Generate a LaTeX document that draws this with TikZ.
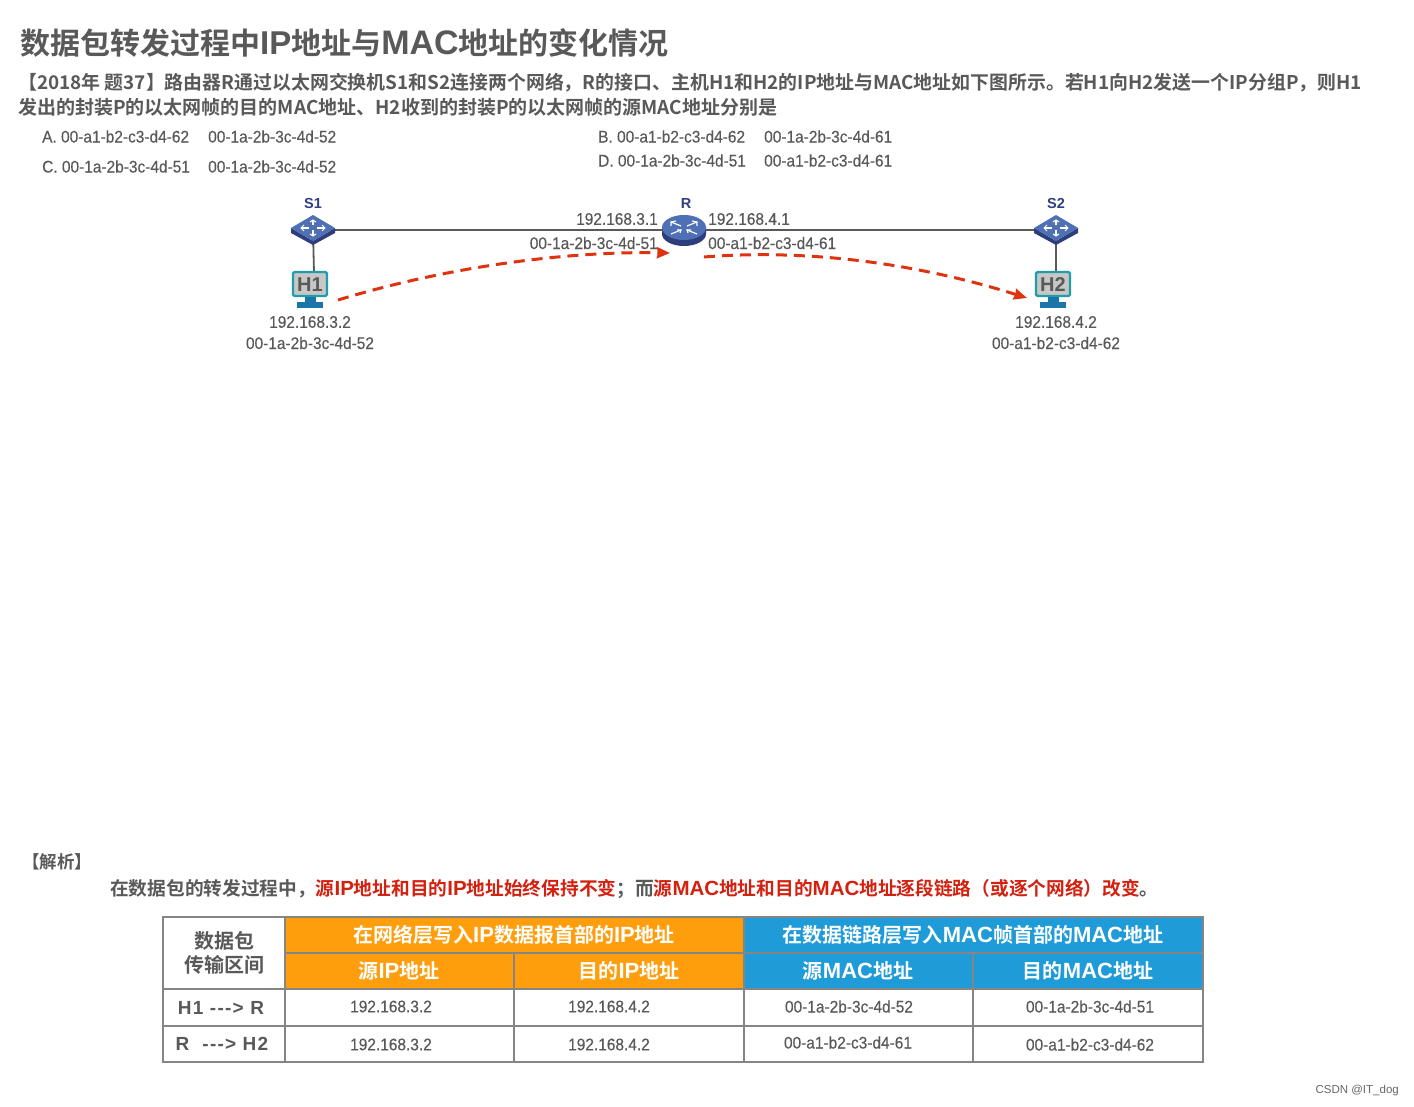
\documentclass[tikz,border=0pt]{standalone}
\usepackage{fontspec}
\setmainfont{Liberation Sans}[FakeStretch=0.92,FakeBold=0.25]
\newfontfamily\wide{Liberation Sans}
\newfontfamily\rowf{Liberation Sans}[LetterSpace=6.5]
\newfontfamily\cjk{Noto Sans CJK SC}[BoldFont={Noto Sans CJK SC Bold}]
\definecolor{txt}{HTML}{595959}
\definecolor{redtxt}{HTML}{D3200F}
\definecolor{flowc}{HTML}{DF3310}
\definecolor{orangec}{HTML}{FF9E0D}
\definecolor{bluec}{HTML}{1F9CD8}
\definecolor{gridc}{HTML}{858585}
\definecolor{navy}{HTML}{2F3F80}
\definecolor{iconb}{HTML}{4F70B4}
\definecolor{iconbd}{HTML}{2E3E7C}
\definecolor{teal2}{HTML}{1F9EA8}
\definecolor{standc}{HTML}{1B75A8}
\newcommand{\fs}[1]{\fontsize{#1}{#1}\selectfont}
\newcommand{\lat}[2]{{\wide\bfseries\fs{#1}#2}}
\usetikzlibrary{arrows.meta}
\tikzset{
  x=1pt,y=-1pt,
  tx/.style={text=txt,inner sep=0pt,font=\fs{16.8}},
  cjkbold/.style={text=txt,inner sep=0pt,font=\cjk\bfseries\fs{#1}},
  hdr/.style={text=white,inner sep=0pt,font=\cjk\bfseries\fs{20}},
  cell/.style={text=txt,inner sep=0pt,font=\fs{16.8}},
  rowl/.style={text=txt,inner sep=0pt,font=\rowf\bfseries\fs{19}},
  dev/.style={text=navy,inner sep=0pt,font=\wide\bfseries\fs{14.5}},
  hostt/.style={text=black!65,inner sep=0pt,font=\wide\bfseries\fs{20}},
  link/.style={draw=black!65,line width=1.8pt},
  flow/.style={draw=flowc,line width=3pt,dash pattern=on 11pt off 7pt,-{Stealth[length=13pt,width=11pt,inset=1pt]}},
  grid/.style={draw=gridc,line width=1.1pt},
  spot/.style={inner sep=0pt,minimum size=2pt},
  pics/switchicon/.style={code={
    \fill[iconbd] (-22,-2)--(0,11)--(22,-2)--(22,3)--(0,15)--(-22,3)--cycle;
    \fill[iconb] (-22,-2)--(0,-15)--(22,-2)--(0,11)--cycle;
    \draw[white,line width=1.2pt] (-12,-2)--(12,-2) (0,-10)--(0,6);
    \draw[white,line width=1pt] (-9,-5)--(-12,-2)--(-9,1) (9,-5)--(12,-2)--(9,1) (-3,-8)--(0,-10)--(3,-8) (-3,4)--(0,6)--(3,4);
    \fill[iconb] (-4,-4.5) rectangle (4,.5);
  }},
  pics/routericon/.style={code={
    \fill[iconbd] (-22,-2) -- (-22,5) arc[start angle=180,end angle=0,x radius=22,y radius=12] -- (22,-2) -- cycle;
    \fill[iconb] (0,-1.5) ellipse[x radius=22,y radius=12.5];
    \draw[white,line width=1.2pt] (-13,-7)--(-3,-3) (13,-7)--(3,-3) (-13,5)--(-3,1) (13,5)--(3,1);
    \draw[white,line width=1.1pt] (-13,-3)--(-13,-7)--(-8,-8) (13,-3)--(13,-7)--(8,-8) (-7,1)--(-3,1)--(-4,4) (7,1)--(3,1)--(4,4);
  }},
  pics/hosticon/.style={code={
    \draw[teal2,line width=2.2pt,fill=black!22,rounded corners=1.5pt] (-17,-12) rectangle (17,12);
    \fill[standc] (-5.5,13) rectangle (5.5,18);
    \fill[standc] (-13,18) rectangle (13,24);
  }},
}
\begin{document}
\begin{tikzpicture}
\useasboundingbox (0,0) rectangle (1414,1107);
\fill[white] (0,0) rectangle (1414,1107);
% header text
\node[cjkbold=30,anchor=west] (title) at (20,43) {数据包转发过程中\lat{33}{IP}地址与\lat{34}{MAC}地址的变化情况};
\node[cjkbold=18.9,anchor=west] (q1) at (18,83) {【2018年 题37】路由器R通过以太网交换机S1和S2连接两个网络，R的接口、主机H1和H2的IP地址与MAC地址如下图所示。若H1向H2发送一个IP分组P，则H1};
\node[cjkbold=19,anchor=west] (q2) at (18,107) {发出的封装P的以太网帧的目的MAC地址、H2收到的封装P的以太网帧的源MAC地址分别是};
\node[tx,anchor=west] (oa1) at (42,136.5) {A. 00-a1-b2-c3-d4-62};
\node[tx,anchor=west] (oa2) at (208,136.5) {00-1a-2b-3c-4d-52};
\node[tx,anchor=west] (oc1) at (42,166.5) {C. 00-1a-2b-3c-4d-51};
\node[tx,anchor=west] (oc2) at (208,166.5) {00-1a-2b-3c-4d-52};
\node[tx,anchor=west] (ob1) at (598,136.5) {B. 00-a1-b2-c3-d4-62};
\node[tx,anchor=west] (ob2) at (764,136.5) {00-1a-2b-3c-4d-61};
\node[tx,anchor=west] (od1) at (598,160.5) {D. 00-1a-2b-3c-4d-51};
\node[tx,anchor=west] (od2) at (764,160.5) {00-a1-b2-c3-d4-61};
% topology
\node[spot] (s1) at (313,230) {};
\node[spot] (r) at (684,230) {};
\node[spot] (s2) at (1056,230) {};
\node[spot] (h1) at (314,273) {};
\node[spot] (h2) at (1056,273) {};
\draw[link] (s1) -- (r);
\draw[link] (r) -- (s2);
\draw[link] (s1) -- (h1);
\draw[link] (s2) -- (h2);
\pic at (313,230) {switchicon};
\pic at (1056,230) {switchicon};
\pic at (684,229) {routericon};
\pic at (310,284) {hosticon};
\pic at (1053,284) {hosticon};
\node[hostt] (h1t) at (310,284.5) {H1};
\node[hostt] (h2t) at (1053,284.5) {H2};
\node[dev] (s1t) at (313,204) {S1};
\node[dev] (rt) at (686,204) {R};
\node[dev] (s2t) at (1056,204) {S2};
\node[tx,anchor=east] (l1) at (658,219) {192.168.3.1};
\node[tx,anchor=east] (l2) at (658,243) {00-1a-2b-3c-4d-51};
\node[tx,anchor=west] (l3) at (708,219) {192.168.4.1};
\node[tx,anchor=west] (l4) at (708,243) {00-a1-b2-c3-d4-61};
\node[tx] (l5) at (310,322) {192.168.3.2};
\node[tx] (l6) at (310,343) {00-1a-2b-3c-4d-52};
\node[tx] (l7) at (1056,322) {192.168.4.2};
\node[tx] (l8) at (1056,343) {00-a1-b2-c3-d4-62};
\coordinate (f1) at (338,300);
\coordinate (f2) at (670,253);
\coordinate (f3) at (704,257);
\coordinate (f4) at (1027,298);
\draw[flow] (f1) .. controls (450,266) and (570,251) .. (f2);
\draw[flow] (f3) .. controls (790,250) and (900,258) .. (f4);
% analysis
\node[cjkbold=17.5,anchor=west] (an) at (22,862) {【解析】};
\node[cjkbold=18.7,anchor=west] (an1) at (110,889.5) {在数据包的转发过程中，\textcolor{redtxt}{源\lat{20.5}{IP}地址和目的\lat{20.5}{IP}地址始终保持不变}；而\textcolor{redtxt}{源\lat{20.5}{MAC}地址和目的\lat{20.5}{MAC}地址逐段链路（或逐个网络）改变}。};
% table
\fill[orangec] (285,917) rectangle (744,989);
\fill[bluec] (744,917) rectangle (1203,989);
\draw[grid] (163,917) rectangle (1203,1062);
\draw[grid] (285,917) -- (285,1062);
\draw[grid] (744,917) -- (744,1062);
\draw[grid] (514,953) -- (514,1062);
\draw[grid] (973,953) -- (973,1062);
\draw[grid] (285,953) -- (1203,953);
\draw[grid] (163,989) -- (1203,989);
\draw[grid] (163,1026) -- (1203,1026);
\node[cjkbold=20] (c0a) at (224,941) {数据包};
\node[cjkbold=20] (c0b) at (224,965) {传输区间};
\node[hdr] (ha) at (514,935) {在网络层写入\lat{22}{IP}数据报首部的\lat{22}{IP}地址};
\node[hdr] (hb) at (973,935) {在数据链路层写入\lat{22}{MAC}帧首部的\lat{22}{MAC}地址};
\node[hdr] (h11) at (399,971) {源\lat{22}{IP}地址};
\node[hdr] (h12) at (629,971) {目的\lat{22}{IP}地址};
\node[hdr] (h13) at (858,971) {源\lat{22}{MAC}地址};
\node[hdr] (h14) at (1088,971) {目的\lat{22}{MAC}地址};
\node[rowl] (r1) at (221,1008) {H1 -{}-{}-> R};
\node[rowl] (r2) at (222,1044) {R~ -{}-{}-> H2};
\node[cell] (d11) at (391,1006.5) {192.168.3.2};
\node[cell] (d12) at (609,1006.5) {192.168.4.2};
\node[cell] (d13) at (849,1006.5) {00-1a-2b-3c-4d-52};
\node[cell] (d14) at (1090,1006.5) {00-1a-2b-3c-4d-51};
\node[cell] (d21) at (391,1044.5) {192.168.3.2};
\node[cell] (d22) at (609,1044.5) {192.168.4.2};
\node[cell] (d23) at (848,1042.5) {00-a1-b2-c3-d4-61};
\node[cell] (d24) at (1090,1044.5) {00-a1-b2-c3-d4-62};
\node[text=black!60,inner sep=0pt,font=\wide\fs{11.5},anchor=east] (wm) at (1399,1091) {CSDN @IT\_dog};
\end{tikzpicture}
\end{document}
